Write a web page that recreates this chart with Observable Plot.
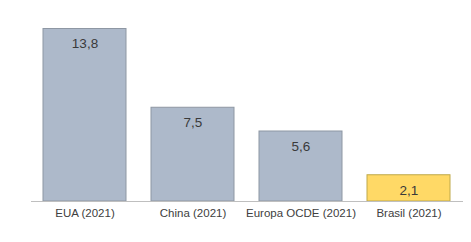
<!DOCTYPE html>
<html>
<head>
<meta charset="utf-8">
<script src="https://cdn.jsdelivr.net/npm/d3@7"></script>
<script src="https://cdn.jsdelivr.net/npm/@observablehq/plot@0.6"></script>
<style>
  html, body { margin: 0; padding: 0; background: #fff; }
  #chart svg { display: block; }
</style>
</head>
<body>
<div id="chart"></div>
<script>
const categories = ["EUA (2021)", "China (2021)", "Europa OCDE (2021)", "Brasil (2021)"];
const values = [13.8, 7.5, 5.6, 2.1];
const labels = ["13,8", "7,5", "5,6", "2,1"];
const highlight = [false, false, false, true];

const data = categories.map((c, i) => ({ cat: c, v: values[i], label: labels[i], hl: highlight[i] }));

const chart = Plot.plot({
  width: 471,
  height: 242,
  marginLeft: 31,
  marginRight: 8,
  marginTop: 1,
  marginBottom: 41,
  style: { fontFamily: "'Liberation Sans', Arial, sans-serif", background: "#fff" },
  x: { domain: categories, paddingInner: 0.227, paddingOuter: 0.113, label: null },
  y: { domain: [0, 16], axis: null },
  marks: [
    Plot.barY(data, {
      x: "cat", y: "v",
      fill: d => d.hl ? "#ffd966" : "#adb9ca",
      stroke: d => d.hl ? "#bfa94a" : "#8e97a3",
      strokeWidth: 1
    }),
    Plot.ruleY([0], { stroke: "#bfbfbf", strokeWidth: 1.2 }),
    Plot.text(data, {
      x: "cat", y: "v", text: "label", dy: 15,
      fontSize: 13.5, fill: "#3a3a3a"
    }),
    Plot.axisX({ tickSize: 0, tickPadding: 7, fontSize: 11.5, color: "#404040", label: null })
  ]
});
document.getElementById("chart").appendChild(chart);
</script>
</body>
</html>
